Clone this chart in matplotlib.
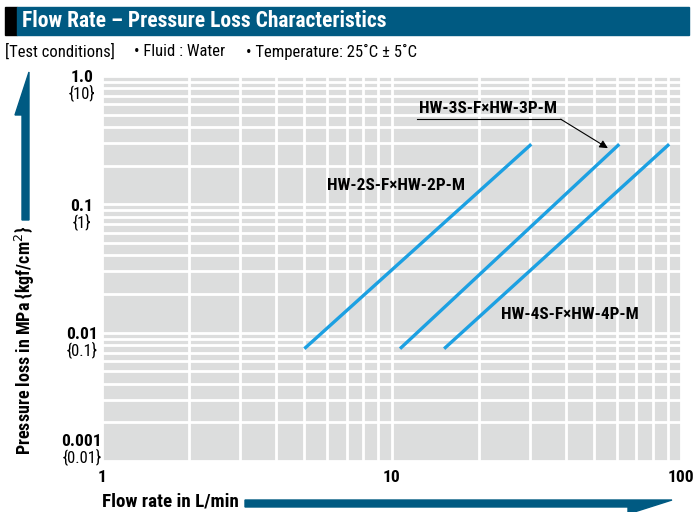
import os
import matplotlib
matplotlib.use('Agg')
import matplotlib.pyplot as plt
import matplotlib.patches as mpatches
from matplotlib import font_manager
from matplotlib.ticker import LogLocator, NullFormatter

# ---- data ----
series_names = ['HW-2S-F×HW-2P-M', 'HW-3S-F×HW-3P-M', 'HW-4S-F×HW-4P-M']
flow_2 = [5.0, 30.4]
flow_3 = [10.7, 61.2]
flow_4 = [15.2, 91.0]
loss = [0.0075, 0.294]          # same pressure range for all three lines

y_ticks = [0.001, 0.01, 0.1, 1.0]
y_mpa = ['0.001', '0.01', '0.1', '1.0']
y_kgf = ['{0.01}', '{0.1}', '{1}', '{10}']
x_ticks = [1, 10, 100]
x_labels = ['1', '10', '100']

# ---- fonts: look for a narrow/condensed face ----
def find_face(bold):
    prefs = ['liberationsansnarrow', 'robotocondensed', 'dejavusanscondensed',
             'opensanscondensed', 'notosanscondensed', 'narrow', 'condensed']
    files = [f.fname for f in font_manager.fontManager.ttflist]
    for p in prefs:
        for fn in files:
            base = os.path.basename(fn).lower().replace('-', '').replace('_', '')
            if p not in base or 'italic' in base or 'oblique' in base:
                continue
            if bold and 'bold' in base and 'semi' not in base and 'extra' not in base:
                return fn
            if not bold and 'bold' not in base and 'light' not in base and 'thin' not in base \
                    and 'medium' not in base and 'black' not in base:
                return fn
    return None

reg_file = find_face(False)
bold_file = find_face(True)
NARROW = reg_file is not None and bold_file is not None

def fp(size, bold=False):
    if NARROW:
        return font_manager.FontProperties(fname=bold_file if bold else reg_file, size=size)
    return font_manager.FontProperties(family='DejaVu Sans', size=size * 0.85,
                                       weight='bold' if bold else 'normal')

BLUE_DARK = '#005a82'
LINE_BLUE = '#1ca0e2'
GRAY = '#dcdddd'

W, H = 696, 512
fig = plt.figure(figsize=(W / 100, H / 100), dpi=100)

def fx(px):
    return px / W

def fy(py):
    return 1 - py / H

# header bar
fig.patches.append(mpatches.Rectangle((fx(5), fy(35)), fx(12), fy(7) - fy(35),
                                      transform=fig.transFigure, color='black'))
fig.patches.append(mpatches.Rectangle((fx(17), fy(35)), fx(689 - 17), fy(7) - fy(35),
                                      transform=fig.transFigure, color=BLUE_DARK))
fig.text(fx(22), fy(21), 'Flow Rate – Pressure Loss Characteristics', color='white',
         fontproperties=fp(15.5, True), va='center', ha='left')

# test conditions
fig.text(fx(5), fy(52), '[Test conditions]', fontproperties=fp(12), va='center')
fig.text(fx(134), fy(52), '• Fluid : Water', fontproperties=fp(12), va='center')
fig.text(fx(246), fy(52), '• Temperature: 25˚C ± 5˚C', fontproperties=fp(12), va='center')

# axes
ax = fig.add_axes([fx(102), fy(461), fx(681 - 102), fy(76) - fy(461)])
ax.set_facecolor(GRAY)
ax.set_xscale('log')
ax.set_yscale('log')
ax.set_xlim(1, 100)
ax.set_ylim(0.001, 1.0)
ax.xaxis.set_major_locator(LogLocator(base=10, numticks=10))
ax.xaxis.set_minor_locator(LogLocator(base=10, subs=range(2, 10), numticks=20))
ax.yaxis.set_major_locator(LogLocator(base=10, numticks=10))
ax.yaxis.set_minor_locator(LogLocator(base=10, subs=range(2, 10), numticks=20))
for axis in (ax.xaxis, ax.yaxis):
    axis.set_major_formatter(NullFormatter())
    axis.set_minor_formatter(NullFormatter())
ax.tick_params(which='both', length=0)
ax.grid(True, which='both', color='white', linewidth=2.0)
ax.set_axisbelow(True)
for s in ax.spines.values():
    s.set_visible(False)

for flow in (flow_2, flow_3, flow_4):
    ax.plot(flow, loss, color=LINE_BLUE, linewidth=2.4, solid_capstyle='butt', zorder=3)

lab_kw = dict(fontproperties=fp(12.4, True), ha='center', va='center', zorder=4)
ax.text(10.4, 0.141, series_names[0], **lab_kw)
ax.text(21.5, 0.56, series_names[1], **lab_kw)
ax.text(41.3, 0.0138, series_names[2], **lab_kw)
ax.plot([12.2, 38.4], [0.461, 0.461], color='black', linewidth=0.8, zorder=4)
ax.annotate('', xy=(55.9, 0.274), xytext=(38.4, 0.461),
            arrowprops=dict(arrowstyle='-|>', color='black', lw=0.8, mutation_scale=12,
                            shrinkA=0, shrinkB=0), zorder=4)

# y tick labels (MPa with kgf/cm2 below)
for i, (v, a, b) in enumerate(zip(y_ticks, y_mpa, y_kgf)):
    off1, off2 = (-2, -17) if i > 0 else (19, 4)
    ax.annotate(a, xy=(-0.035, v), xycoords=('axes fraction', 'data'),
                xytext=(0, off1 * 0.72), textcoords='offset points',
                ha='center', va='center', fontproperties=fp(12.5, True), annotation_clip=False)
    ax.annotate(b, xy=(-0.035, v), xycoords=('axes fraction', 'data'),
                xytext=(0, off2 * 0.72), textcoords='offset points',
                ha='center', va='center', fontproperties=fp(12), annotation_clip=False)

# x tick labels
for v, t in zip(x_ticks, x_labels):
    ax.annotate(t, xy=(v, 0), xycoords=('data', 'axes fraction'),
                xytext=(0, -16 * 0.72), textcoords='offset points',
                ha='center', va='center', fontproperties=fp(12.5, True), annotation_clip=False)

# axis titles with big arrows
fig.text(fx(25), fy(340), 'Pressure loss in MPa {kgf/cm$^2$}', rotation=90,
         fontproperties=fp(13, True), ha='center', va='center')
fig.patches.append(mpatches.Polygon(
    [(fx(22), fy(220)), (fx(22), fy(115)), (fx(15), fy(115)), (fx(29), fy(72)),
     (fx(29), fy(220))], closed=True, transform=fig.transFigure, color=BLUE_DARK))

fig.text(fx(102), fy(502), 'Flow rate in L/min', fontproperties=fp(13.7, True),
         ha='left', va='center')
fig.patches.append(mpatches.Polygon(
    [(fx(245), fy(500)), (fx(672), fy(500)), (fx(628), fy(514)), (fx(628), fy(507)),
     (fx(245), fy(507))], closed=True, transform=fig.transFigure, color=BLUE_DARK))

fig.savefig('out.png', dpi=100)
